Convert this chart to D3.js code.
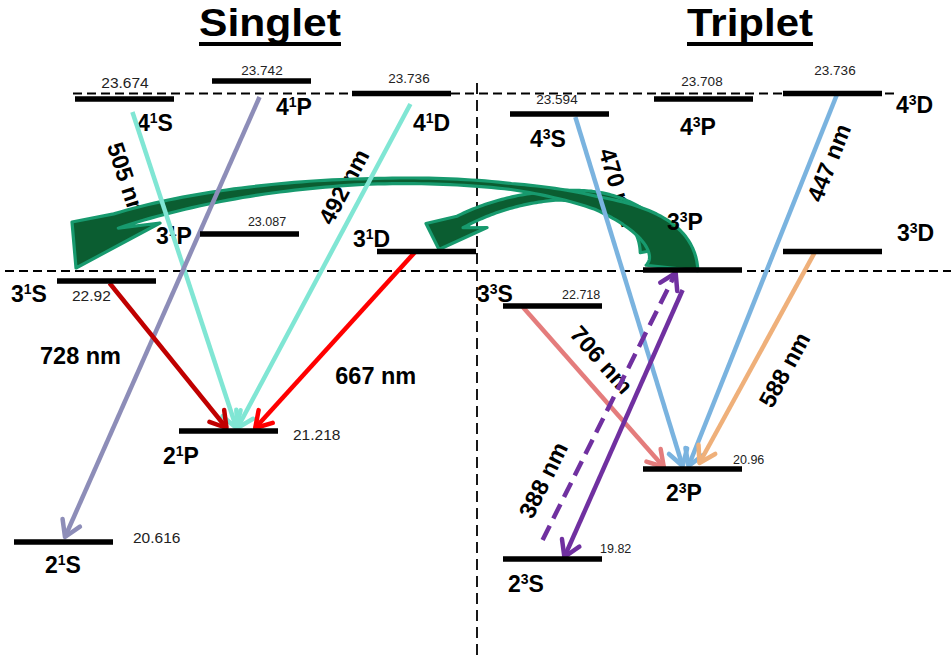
<!DOCTYPE html>
<html><head><meta charset="utf-8">
<script src="https://cdn.jsdelivr.net/npm/d3@7"></script>
<style>body{margin:0;background:#fff}svg{display:block;font-family:"Liberation Sans",Arial,sans-serif}</style>
</head><body><svg id="c" width="951" height="661"></svg>
<script>
// ---------------- DATA ----------------
const titles      = ["Singlet", "Triplet"];
const levelN      = [4, 4, 4, 3, 3, 3, 2, 2,   4, 4, 4, 3, 3, 3, 2, 2];
const levelSpin   = [1, 1, 1, 1, 1, 1, 1, 1,   3, 3, 3, 3, 3, 3, 3, 3];
const levelL      = ["S","P","D","P","D","S","P","S",  "S","P","D","P","D","S","P","S"];
const levelEnergy = [23.674, 23.742, 23.736, 23.087, 23.074, 22.92, 21.218, 20.616,
                     23.594, 23.708, 23.736, 23.007, 23.074, 22.718, 20.96, 19.82];
const levelShown  = [1,1,1,1,0,1,1,1,  1,1,1,0,0,1,1,1];

const transFrom = ["41S","41P","41D","31S","31D","43S","43D","33S","33D","33P","23S"];
const transTo   = ["21P","21S","21P","21P","21P","23P","23P","23P","23P","23S","33P"];
const transNm   = [505, null, 492, 728, 667, 470, 447, 706, 588, null, 388];

const transferFrom = ["33P", "33P"];
const transferTo   = ["31S", "31D"];

// ---------------- LAYOUT / STYLE ----------------
const W = 951, H = 661, BAR_W = 99, BAR_H = 5.5;
// schematic (non-linear) energy axis
const y = d3.scaleLinear()
  .domain([19.82, 20.616, 20.96, 21.218, 22.718, 22.92, 23.007, 23.074, 23.087, 23.594, 23.674, 23.708, 23.736, 23.742])
  .range ([559,   542,    469,   431,    306,    281,   270,    251.5,  234,    114,    99,     99,     93.5,   81]);

// bar start, name label offset [dx,dy], value label [anchor, dx, dy, size]
const LAYOUT = {
  "41S": {x0: 75,  name: [62, 32],   val: ["middle", 50, -11, 15.5]},
  "41P": {x0: 212, name: [64, 34],   val: ["middle", 50, -6, 13.5]},
  "41D": {x0: 352, name: [61, 37.5], val: ["middle", 57, -10.5, 13.5]},
  "31P": {x0: 200, name: [-44, 10],  val: ["middle", 67, -8, 12.5]},
  "31D": {x0: 377, name: [-24, -4.5]},
  "31S": {x0: 57,  name: [-46, 21],  val: ["start", 15, 20, 15.5]},
  "21P": {x0: 179, name: [-16, 33],  val: ["start", 114, 9, 15.5]},
  "21S": {x0: 14,  name: [31, 31],   val: ["start", 119, 1, 15.5]},
  "43S": {x0: 510, name: [20, 33],   val: ["middle", 47, -10, 13.5]},
  "43P": {x0: 654, name: [26, 36],   val: ["middle", 48, -13, 13.5]},
  "43D": {x0: 783, name: [113, 19.5],val: ["middle", 52, -18.5, 13.5]},
  "33P": {x0: 643, name: [24, -40]},
  "33D": {x0: 783, name: [114, -10.5]},
  "33S": {x0: 503, name: [-26, -4],  val: ["start", 59, -7, 12.5]},
  "23P": {x0: 643, name: [23, 32],   val: ["start", 90, -5, 12.5]},
  "23S": {x0: 503, name: [5, 33],    val: ["start", 97, -6, 12.5]}
};

// per transition: [fromFrac, fromGap, toFrac, toGap]
const TRANS_POS = [
  [0.58, 13, 0.58, -3], [0.48, 16, 0.515, -5], [0.59, 10.5, 0.59, -3], [0.53, 2, 0.48, -3],
  [0.38, 1, 0.77, -3], [0.66, 3, 0.40, -3], [0.545, 1, 0.46, -3], [0.20, 1, 0.21, -2],
  [0.32, 1, 0.57, -6], [0.40, 20, 0.62, -2], [0.40, -19, 0.33, 3]
];
const TRANS_COLOR = ["#80e6d4","#8d8db8","#80e6d4","#c00000","#ff0000","#7ab3df","#7ab3df","#e47c7c","#efb07a","#7030a0","#7030a0"];
const TRANS_DASH  = [null,null,null,null,null,null,null,null,null,null,"16,8"];
// label: rotated {t, off} or horizontal {t, dx, dy}
const LABEL_POS = [
  {t: 0.194, off: 27}, null, {t: 0.284, off: 19.6}, {t: 0.5, dx: -87.5, dy: 0.5, flat: true},
  {t: 0.705, dx: 73.5, dy: 0, flat: true}, {t: 0.219, off: -20}, {t: 0.166, off: -18},
  {t: 0.43, off: -24}, {t: 0.489, off: -30}, null, {t: 0.181, off: -26}
];

// ---------------- BUILD ----------------
const levels = levelN.map((n, i) => {
  const id = `${n}${levelSpin[i]}${levelL[i]}`;
  return {id, n, spin: levelSpin[i], L: levelL[i], E: levelEnergy[i], shown: levelShown[i], ...LAYOUT[id]};
});
const LV = Object.fromEntries(levels.map(d => [d.id, d]));

const svg = d3.select("#c");
const defs = svg.append("defs");
const colors = Array.from(new Set(TRANS_COLOR));
colors.forEach((c, i) => {
  defs.append("marker").attr("id", "m" + i)
    .attr("markerUnits", "userSpaceOnUse").attr("viewBox", "-24 -24 48 48")
    .attr("markerWidth", 48).attr("markerHeight", 48).attr("refX", 0).attr("refY", 0)
    .attr("orient", "auto")
    .append("path").attr("d", "M-15.5,-9.5 L0,0 L-15.5,9.5")
    .attr("fill", "none").attr("stroke", c).attr("stroke-width", 4.5)
    .attr("stroke-linecap", "round").attr("stroke-linejoin", "round");
});

// guide dashed lines
const g0 = svg.append("g").attr("stroke", "#000").attr("stroke-width", 1.8).attr("fill", "none");
g0.append("line").attr("x1", 73).attr("x2", 895).attr("y1", y(23.736)).attr("y2", y(23.736)).attr("stroke-dasharray", "9,5");
g0.append("line").attr("x1", 5).attr("x2", W).attr("y1", y(23.007) + 1).attr("y2", y(23.007) + 1).attr("stroke-dasharray", "9,5");
g0.append("line").attr("x1", 477).attr("x2", 477).attr("y1", 83).attr("y2", H).attr("stroke-dasharray", "11,6");

const trans = transFrom.map((f, i) => {
  const a = LV[f], b = LV[transTo[i]], p = TRANS_POS[i];
  const x1 = a.x0 + p[0] * BAR_W, y1 = y(a.E) + p[1];
  const x2 = b.x0 + p[2] * BAR_W, y2 = y(b.E) + p[3];
  return {x1, y1, x2, y2, nm: transNm[i], color: TRANS_COLOR[i], dash: TRANS_DASH[i], lab: LABEL_POS[i]};
});

// wavelength labels (under the green arrows)
const gLab = svg.append("g");
trans.filter(d => d.nm != null).forEach(d => {
  const dx = d.x2 - d.x1, dy = d.y2 - d.y1, len = Math.hypot(dx, dy);
  const ux = dx / len, uy = dy / len, nx = -uy, ny = ux;
  const px = d.x1 + dx * d.lab.t, py = d.y1 + dy * d.lab.t;
  let cx, cy, ang = 0;
  if (d.lab.flat) { cx = px + d.lab.dx; cy = py + d.lab.dy; }
  else {
    cx = px + nx * d.lab.off; cy = py + ny * d.lab.off;
    ang = Math.atan2(dy, dx) * 180 / Math.PI;
    if (ang > 90) ang -= 180; if (ang < -90) ang += 180;
  }
  gLab.append("text").attr("transform", `translate(${cx},${cy}) rotate(${ang})`)
    .attr("text-anchor", "middle").attr("dominant-baseline", "central")
    .attr("font-size", 23.5).attr("font-weight", "bold").attr("fill", "#000")
    .text(`${d.nm} nm`);
});

// green energy-transfer arrows
function bez(p, t) { const u = 1 - t; return [0, 1].map(k => u*u*u*p[0][k] + 3*u*u*t*p[1][k] + 3*u*t*t*p[2][k] + t*t*t*p[3][k]); }
function bezD(p, t) { const u = 1 - t; return [0, 1].map(k => 3*u*u*(p[1][k]-p[0][k]) + 6*u*t*(p[2][k]-p[1][k]) + 3*t*t*(p[3][k]-p[2][k])); }
function fatArrow(P, stops, L, T, R) {
  const ws = d3.scaleLinear().domain(stops.map(s => s[0])).range(stops.map(s => s[1]));
  const A = [], B = [];
  for (let i = 0; i <= 100; i++) {
    const t = i / 100, c = bez(P, t), dv = bezD(P, t), l = Math.hypot(dv[0], dv[1]);
    const n = [-dv[1] / l, dv[0] / l], w = ws(t) / 2;
    A.push([c[0] + n[0] * w, c[1] + n[1] * w]); B.push([c[0] - n[0] * w, c[1] - n[1] * w]);
  }
  return d3.line()(A.concat([L, T, R], B.reverse())) + "Z";
}
const ARROW_GEOM = [
  {base: [29, -2], c1: [10, -95], head: [40, -47], c2: [254, -115], tip: [19, -13], L: [-4, -46], R: [84, -45],
   stops: [[0, 52], [0.15, 32], [0.3, 13], [0.45, 6], [0.65, 5.5], [0.8, 9], [0.92, 13], [1, 15]]},
  {base: [12, -20], c1: [-13, -70], head: [21, -27.5], c2: [91, -64.5], tip: [62, -2], L: [-13, -26], R: [48, -22],
   stops: [[0, 30], [0.3, 15], [0.6, 9], [1, 13]]}
];
const gGreen = svg.append("g");
[1, 0].forEach(i => {
  const a = LV[transferFrom[i]], b = LV[transferTo[i]], G = ARROW_GEOM[i];
  const ya = y(a.E), yb = y(b.E);
  const T = [b.x0 + G.tip[0], yb + G.tip[1]];
  const P0 = [a.x0 + G.base[0], ya + G.base[1]];
  const P1 = [P0[0] + G.c1[0], P0[1] + G.c1[1]];
  const P3 = [T[0] + G.head[0], T[1] + G.head[1]];
  const P2 = [T[0] + G.c2[0], T[1] + G.c2[1]];
  gGreen.append("path")
    .attr("d", fatArrow([P0, P1, P2, P3], G.stops, [T[0] + G.L[0], T[1] + G.L[1]], T, [T[0] + G.R[0], T[1] + G.R[1]]))
    .attr("fill", "#0b5d31").attr("stroke", "#179a6e").attr("stroke-width", 3.2).attr("stroke-linejoin", "round");
});

// level names and values
const gTxt = svg.append("g");
levels.forEach(d => {
  const yy = y(d.E);
  const t = gTxt.append("text").attr("x", d.x0 + d.name[0]).attr("y", yy + d.name[1])
    .attr("font-size", 23).attr("font-weight", "bold").attr("fill", "#000");
  t.append("tspan").text(d.n);
  t.append("tspan").attr("dy", -8.5).attr("font-size", 14).text(d.spin);
  t.append("tspan").attr("dy", 8.5).text(d.L);
  if (d.shown && d.val) {
    gTxt.append("text").attr("x", d.x0 + d.val[1]).attr("y", yy + d.val[2])
      .attr("text-anchor", d.val[0]).attr("font-size", d.val[3]).attr("fill", "#222")
      .text(String(d.E));
  }
});

// transition lines
const gT = svg.append("g");
trans.forEach(d => {
  gT.append("line").attr("x1", d.x1).attr("y1", d.y1).attr("x2", d.x2).attr("y2", d.y2)
    .attr("stroke", d.color).attr("stroke-width", 4.5)
    .attr("stroke-dasharray", d.dash)
    .attr("marker-end", `url(#m${colors.indexOf(d.color)})`);
});

// level bars
svg.append("g").selectAll("rect").data(levels).join("rect")
  .attr("x", d => d.x0).attr("y", d => y(d.E) - BAR_H / 2)
  .attr("width", BAR_W).attr("height", BAR_H).attr("fill", "#000");

// titles
const titleX = d3.scalePoint().domain(titles).range([270, 750]);
const titleW = {"Singlet": 142, "Triplet": 126};
titles.forEach(s => {
  svg.append("text").attr("x", titleX(s)).attr("y", 36).attr("text-anchor", "middle")
    .attr("font-size", 38).attr("font-weight", "bold").attr("fill", "#000")
    .attr("textLength", titleW[s]).attr("lengthAdjust", "spacingAndGlyphs").text(s);
  svg.append("rect").attr("x", titleX(s) - titleW[s] / 2).attr("y", 42).attr("width", titleW[s]).attr("height", 4).attr("fill", "#000");
});
</script></body></html>
